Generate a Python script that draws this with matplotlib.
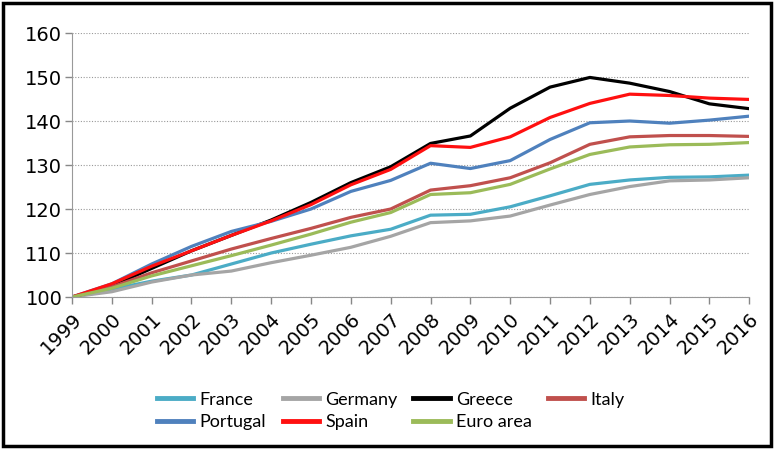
import numpy as np
import matplotlib.pyplot as plt
from matplotlib.patches import Rectangle

years = [str(y) for y in range(1999, 2017)]

france = [100, 101.8, 103.6, 105.0, 107.5, 110.0, 112.0, 113.9, 115.4, 118.6,
          118.8, 120.5, 123.0, 125.6, 126.6, 127.2, 127.3, 127.7]
germany = [100, 101.2, 103.4, 105.0, 105.9, 107.8, 109.5, 111.3, 113.8, 116.9,
           117.3, 118.4, 120.9, 123.3, 125.1, 126.4, 126.6, 127.1]
greece = [100, 102.5, 106.5, 110.5, 114.0, 117.5, 121.5, 126.0, 129.6, 134.9,
          136.6, 142.9, 147.7, 149.9, 148.6, 146.7, 143.9, 142.8]
italy = [100, 102.3, 105.5, 108.2, 110.9, 113.3, 115.6, 118.1, 120.0, 124.3,
         125.3, 127.1, 130.5, 134.7, 136.4, 136.7, 136.7, 136.5]
portugal = [100, 103.0, 107.5, 111.5, 114.9, 117.2, 120.0, 124.0, 126.5, 130.4,
            129.2, 131.0, 135.8, 139.6, 140.0, 139.5, 140.2, 141.1]
spain = [100, 103.0, 107.0, 110.5, 114.0, 117.3, 121.0, 125.5, 129.0, 134.4,
         134.0, 136.4, 140.8, 144.0, 146.1, 145.8, 145.2, 144.9]
euro_area = [100, 102.0, 104.8, 107.1, 109.4, 111.8, 114.3, 117.0, 119.2, 123.3,
             123.7, 125.6, 129.1, 132.4, 134.1, 134.6, 134.7, 135.1]

series = [
    ("France", france, "#4BACC6"),
    ("Germany", germany, "#A5A5A5"),
    ("Greece", greece, "#000000"),
    ("Italy", italy, "#C0504D"),
    ("Portugal", portugal, "#4F81BD"),
    ("Spain", spain, "#FF1010"),
    ("Euro area", euro_area, "#9BBB59"),
]

fig = plt.figure(figsize=(7.74, 4.49), dpi=100)
ax = fig.add_axes([0.093, 0.3385, 0.875, 0.588])

x = np.arange(len(years))
lines = {}
for name, vals, col in series:
    lines[name], = ax.plot(x, vals, color=col, lw=2.3, label=name)

ax.set_xlim(0, len(years) - 1)
ax.set_ylim(100, 160)
ax.set_yticks(range(100, 161, 10))
ax.set_xticks(x)
ax.set_xticklabels(years, rotation=45, ha="right", rotation_mode="anchor")
ax.tick_params(axis="both", labelsize=14, color="#888888", length=5, width=1)
ax.tick_params(axis="x", pad=4)
ax.tick_params(axis="y", pad=2)
ax.grid(axis="y", color="#999999", linestyle=(0, (1, 1.5)), lw=0.8)
for s in ["top", "right"]:
    ax.spines[s].set_visible(False)
for s in ["left", "bottom"]:
    ax.spines[s].set_color("#999999")

# legend fills column by column, so reorder to get the rows right
order = ["France", "Portugal", "Germany", "Spain", "Greece", "Euro area", "Italy"]
leg = fig.legend([lines[n] for n in order], order, loc="center",
                 bbox_to_anchor=(0.505, 0.085), ncol=4, frameon=False,
                 prop={"family": "Lato", "size": 13},
                 handlelength=2.0, handletextpad=0.35, columnspacing=0.9,
                 labelspacing=0.35)
for line in leg.get_lines():
    line.set_linewidth(3.5)

fig.add_artist(Rectangle((0.004, 0.006), 0.992, 0.988, transform=fig.transFigure,
                         fill=False, edgecolor="black", lw=2.5))

fig.savefig("out.png", dpi=100)
